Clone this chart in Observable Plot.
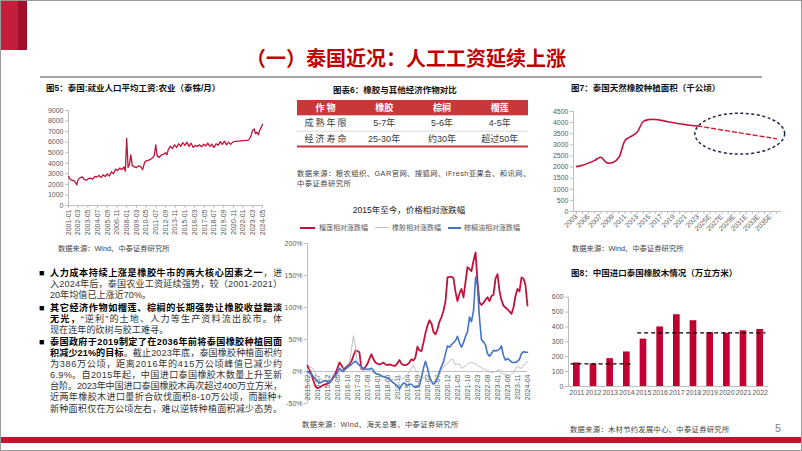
<!DOCTYPE html>
<html><head><meta charset="utf-8">
<script src="https://cdn.jsdelivr.net/npm/d3@7"></script>
<script src="https://cdn.jsdelivr.net/npm/@observablehq/plot@0.6"></script>
<style>
html,body{margin:0;padding:0;background:#fff;}
#page{position:relative;width:802px;height:451px;overflow:hidden;background:#fff;font-family:"Liberation Sans","Noto Sans CJK SC",sans-serif;}
.a{position:absolute;white-space:nowrap;}
.ft{font-weight:700;font-size:8.5px;line-height:8.5px;color:#111;}
.src{font-size:7.3px;line-height:7.3px;color:#444;}
.ln{position:absolute;left:50px;font-size:9.1px;line-height:11px;color:#333;white-space:nowrap;}
.ln b{color:#000;font-weight:700;}
.bul{position:absolute;left:39px;font-size:9px;line-height:11px;color:#000;}
.lg{position:absolute;top:224px;font-size:7px;line-height:7px;color:#595959;white-space:nowrap;}
.sw{position:absolute;height:0;}
</style></head>
<body>
<div id="page">
  <div class="a" style="left:0;top:0;width:18px;height:50px;background:#C41E3A;"></div>
  <div class="a" style="left:18px;top:0;width:9px;height:50px;background:#A0102A;"></div>
  <div class="a" style="left:0;top:48px;width:812px;text-align:center;font-size:20px;line-height:20px;font-weight:700;color:#C00000;font-family:'Noto Sans CJK SC',sans-serif;">（一）泰国近况：人工工资延续上涨</div>
  <div class="a" style="left:40px;top:76px;width:722px;height:2px;background:#A6A6A6;"></div>

  <div class="a ft" style="left:46px;top:84px;">图5：泰国:就业人口平均工资:农业（泰铢/月）</div>
  <div class="a ft" style="left:333px;top:86px;">图表6：橡胶与其他经济作物对比</div>
  <div class="a ft" style="left:571px;top:84px;">图7：泰国天然橡胶种植面积（千公顷）</div>
  <div class="a ft" style="left:571px;top:268.5px;">图8：中国进口泰国橡胶木情况（万立方米）</div>

  <div class="a src" style="left:58px;top:245.3px;">数据来源：Wind、中泰证券研究所</div>
  <div class="a src" style="left:572px;top:245.3px;">数据来源：Wind、中泰证券研究所</div>
  <div class="a src" style="left:297px;top:170.3px;letter-spacing:0.45px;">数据来源：粮农组织、GAR官网、搜狐网、iFresh亚果会、和讯网、</div>
  <div class="a src" style="left:297px;top:179.8px;letter-spacing:0.45px;">中泰证券研究所</div>
  <div class="a src" style="left:302px;top:420.5px;letter-spacing:0.4px;">数据来源：Wind、海关总署、中泰证券研究所</div>
  <div class="a src" style="left:570px;top:426.3px;letter-spacing:0.3px;">数据来源：木材节约发展中心、中泰证券研究所</div>

  <div class="a" style="left:309px;top:205.5px;width:200px;text-align:center;font-size:8.5px;line-height:9px;color:#222;">2015年至今，价格相对涨跌幅</div>
  <div class="sw" style="left:300px;top:226.5px;width:15px;border-top:2px solid #C0143C;"></div>
  <div class="lg" style="left:319px;">榴莲相对涨跌幅</div>
  <div class="sw" style="left:375px;top:227px;width:14px;border-top:1px solid #BFBFBF;"></div>
  <div class="lg" style="left:392px;">橡胶相对涨跌幅</div>
  <div class="sw" style="left:448px;top:226.5px;width:13px;border-top:2px solid #4472C4;"></div>
  <div class="lg" style="left:464px;">棕榈油相对涨跌幅</div>

  <div class="bul" style="top:267.8px;">■</div>
  <div class="ln j" style="top:267.8px;"><b>人力成本持续上涨是橡胶牛市的两大核心因素之一</b>，进</div>
  <div class="ln j" style="top:279.2px;">入2024年后，泰国农业工资延续强势，较（2001-2021）</div>
  <div class="ln" style="top:290.2px;">20年均值已上涨近70%。</div>
  <div class="bul" style="top:302.8px;">■</div>
  <div class="ln j" style="top:302.8px;"><b>其它经济作物如榴莲、棕榈的长期强势让橡胶收益黯淡</b></div>
  <div class="ln j" style="top:313.8px;"><b>无光，</b>“逆利”的土地、人力等生产资料流出胶市。体</div>
  <div class="ln" style="top:324.5px;">现在连年的砍树与胶工难寻。</div>
  <div class="bul" style="top:336.8px;">■</div>
  <div class="ln j" style="top:336.8px;"><b>泰国政府于2019制定了在2036年前将泰国橡胶种植园面</b></div>
  <div class="ln j" style="top:347.8px;"><b>积减少21%的目标</b>。截止2023年底，泰国橡胶种植面积约</div>
  <div class="ln j" style="top:358.5px;">为386万公顷，距离2016年的415万公顷峰值已减少约</div>
  <div class="ln j" style="top:370.2px;">6.9%。自2015年起，中国进口泰国橡胶木数量上升至新</div>
  <div class="ln j" style="top:381.2px;">台阶。2023年中国进口泰国橡胶木再次超过400万立方米，</div>
  <div class="ln j" style="top:392.2px;">近两年橡胶木进口量折合砍伐面积8-10万公顷，而翻种+</div>
  <div class="ln j" style="top:403.5px;">新种面积仅在万公顷左右，难以逆转种植面积减少态势。</div>

  <div class="a" style="left:0;top:436.5px;width:802px;height:6px;background:#C41230;"></div>
  <div class="a" style="left:775px;top:423px;font-size:11px;line-height:11px;color:#7f7f7f;">5</div>
  <div class="a" style="left:0;top:0;width:802px;height:451px;box-sizing:border-box;border:1px solid #9a9a9a;"></div>
</div>
<script>
// ---------- data ----------
const wageDates = ["2001-01","2001-04","2001-07","2001-10","2002-01","2002-03","2002-06","2002-09","2002-12","2003-03","2003-06","2003-09","2003-12","2004-03","2004-06","2004-09","2004-12","2005-03","2005-06","2005-09","2005-12","2006-03","2006-06","2006-09","2006-12","2007-03","2007-06","2007-09","2007-11","2008-01","2008-03","2008-05","2008-07","2008-09","2008-12","2009-03","2009-06","2009-09","2009-12","2010-03","2010-06","2010-09","2010-12","2011-03","2011-05","2011-07","2011-09","2011-12","2012-03","2012-06","2012-09","2012-11","2013-01","2013-04","2013-07","2013-10","2014-01","2014-04","2014-07","2014-10","2015-01","2015-04","2015-07","2015-10","2016-01","2016-04","2016-07","2016-10","2017-01","2017-04","2017-07","2017-10","2018-01","2018-04","2018-07","2018-10","2019-01","2019-04","2019-07","2019-10","2020-01","2020-04","2020-07","2020-11","2022-09","2022-12","2023-03","2023-05","2023-07","2023-09","2023-11","2024-01","2024-03","2024-05"];
const wageValues = [2750,2450,2380,2300,1950,2450,2650,2700,2450,2400,2550,2600,2500,2750,2700,2850,2650,2900,2750,3000,2800,3200,3000,3450,3300,3550,3400,3650,3250,6350,3600,3900,4800,3800,3650,3600,3750,3700,3400,4100,4250,4300,4400,4550,4800,5750,4700,4550,4800,4850,5000,4800,5300,5600,5400,5750,5500,5850,5600,5950,5700,6000,5600,5900,5500,5700,5600,5750,5550,5800,5650,5900,5600,5800,5500,5850,5700,6050,5800,6100,5750,6000,5800,6050,6200,6550,7150,7250,6800,6950,6700,7100,7400,7700];
const wageTicks = ["2001-01","2002-03","2003-05","2004-07","2005-09","2006-11","2008-01","2009-03","2010-05","2011-07","2012-09","2013-11","2015-01","2016-03","2017-05","2018-07","2019-09","2020-11","2022-01","2023-03","2024-05"];
const wageYTicks = [0,1000,2000,3000,4000,5000,6000,7000,8000,9000];

const tableHeader = ["作物","橡胶","棕榈","榴莲"];
const tableRow1 = ["成熟年限","5-7年","5-6年","4-5年"];
const tableRow2 = ["经济寿命","25-30年","约30年","超过50年"];

const priceStart = "2015-02", priceEnd = "2024-04";
const durianValues = [9,3,-4,-14,-23,-26,-25,-23,-21,-20,
 -19,-17,-14,-8,-3,5,14,10,4,6,
 9,12,16,25,33,32,30,4,3,7,
 12,20,27,19,14,12,11,12,14,11,
 10,11,10,9,9,13,18,12,10,10,
 11,14,19,17,22,39,33,32,45,60,
 72,80,75,62,58,66,78,85,95,110,
 147,148,148,146,125,110,122,129,116,140,
 163,160,157,173,186,142,108,104,107,112,
 116,110,118,120,145,152,125,112,103,100,
 97,94,90,100,118,129,125,147,145,135,
 103];
const rubberValues = [0,4,7,3,-3,-8,-10,-12,-14,-16,
 -13,-10,-7,-5,-10,-12,-2,3,6,8,
 10,14,35,56,38,15,8,5,2,3,
 4,2,0,-2,-3,-4,-5,-6,-8,-9,
 -10,-11,-12,-13,-14,-10,-8,-10,-12,-8,
 -5,0,5,10,3,-3,-8,-9,-10,-11,
 -12,-15,-18,-16,-15,-10,-5,2,8,10,
 12,16,20,18,10,12,12,5,7,9,
 12,14,14,13,12,10,8,6,4,3,
 2,0,-2,-1,0,2,3,-3,-4,-4,
 -5,-6,-4,-2,4,8,6,5,10,12,
 16];
const palmValues = [0,-2,-4,-8,-12,-15,-18,-17,-15,-14,
 -16,-18,-13,-10,-6,-2,5,2,0,4,
 6,9,11,14,16,13,10,7,5,4,
 3,4,5,1,-3,-4,-5,-7,-8,-9,
 -10,-12,-15,-18,-20,-23,-27,-22,-18,-19,
 -22,-20,-20,-23,-25,-24,-22,-10,5,16,
 5,-8,-15,-20,-17,-10,0,8,15,28,
 40,38,42,45,48,55,45,38,45,55,
 62,85,78,95,147,135,84,50,46,42,
 28,24,28,33,32,33,35,40,25,18,
 20,18,15,14,14,16,19,28,31,30,
 30];
const priceTicks = ["2015-02","2015-07","2015-12","2016-05","2016-10","2017-03","2017-08","2018-01","2018-06","2018-11","2019-04","2019-09","2020-02","2020-07","2020-12","2021-05","2021-10","2022-03","2022-08","2023-01","2023-06","2023-11","2024-04"];
const priceYTicks = [-50,0,50,100,150,200];

const areaYears = [2003,2004,2005,2006,2007,2008,2009,2010,2011,2012,2013,2014,2015,2016,2017,2018,2019,2020,2021,2022,2023];
const areaValues = [2020,2080,2180,2300,2440,2190,2200,2440,3200,3380,3570,4050,4140,4140,4100,4040,3990,3950,3910,3870,3850];
const areaForecastYears = [2023,2024,2025,2026,2027,2028,2029,2030,2031,2032,2033,2034,2035,2036];
const areaForecastValues = [3850,3800,3760,3710,3670,3630,3580,3540,3490,3450,3400,3360,3320,3270];
const areaTickYears = [2003,2005,2007,2009,2011,2013,2015,2017,2019,2021,2023,2025,2027,2029,2031,2033,2035];
const areaTickLabels = ["2003","2005","2007","2009","2011","2013","2015","2017","2019","2021","2023","2025E","2027E","2029E","2031E","2033E","2035E"];
const areaYTicks = [0,500,1000,1500,2000,2500,3000,3500,4000,4500];
const forecastOval = {fromYear: 2022.6, toYear: 2037.4, low: 2560, high: 4400};

const importYears = [2011,2012,2013,2014,2015,2016,2017,2018,2019,2020,2021,2022];
const importValues = [158,152,187,232,318,400,482,442,362,358,374,383];
const importLevelFrom = [2011,2015];
const importLevelTo = [2014,2022];
const importLevelValue = [152,360];
const importYTicks = [0,100,200,300,400,500,600];

// ---------- justify text lines to a fixed width ----------
document.querySelectorAll(".ln.j").forEach(el => {
  const target = 232;
  const n = [...el.textContent].length;
  const w = el.getBoundingClientRect().width;
  el.style.letterSpacing = ((target - w) / (n - 1)) + "px";
});

// ---------- helpers ----------
const FONT = '"Liberation Sans","Noto Sans CJK SC",sans-serif';
const TXT = "#595959", AXIS = "#BFBFBF", CRIMSON = "#C0143C", BLUE = "#4472C4";
const page = document.getElementById("page");
function place(el, left, top){ const d=document.createElement("div"); d.style.cssText=`position:absolute;left:${left}px;top:${top}px;`; d.appendChild(el); page.insertBefore(d, page.lastElementChild); }
const style = {fontFamily: FONT, fontSize: "7px", color: TXT, background: "transparent", overflow: "visible"};
const parseYM = d3.utcParse("%Y-%m");
const fmtYM = d3.utcFormat("%Y-%m");
const plain = d => String(d);

// ---------- chart 1: wages ----------
const wageData = wageDates.map((d,i)=>({date: parseYM(d), value: wageValues[i]}));
const c1 = Plot.plot({
  width: 240, height: 140, marginLeft: 38, marginRight: 8, marginTop: 10, marginBottom: 35, style,
  x: {type: "utc", domain: [parseYM(wageTicks[0]), parseYM(wageTicks[wageTicks.length-1])]},
  y: {domain: [0, 9000]},
  marks: [
    Plot.axisY({ticks: wageYTicks, tickFormat: plain, tickSize: 3, tickPadding: 2, stroke: AXIS, fill: TXT, label: null}),
    Plot.axisX({ticks: wageTicks.map(parseYM), tickFormat: fmtYM, tickRotate: -90, tickSize: 3, tickPadding: 1, stroke: AXIS, fill: TXT, label: null}),
    Plot.ruleX([parseYM(wageTicks[0])], {stroke: AXIS}),
    Plot.ruleY([0], {stroke: AXIS}),
    Plot.line(wageData, {x: "date", y: "value", stroke: CRIMSON, strokeWidth: 1.3})
  ]
});
place(c1, 30, 100);

// ---------- table ----------
const tableRows = [tableHeader, tableRow1, tableRow2];
const cells = tableRows.flatMap((row, r) => row.map((t, c) => ({r, c, t})));
const c2 = Plot.plot({
  width: 241, height: 55, marginLeft: 5, marginRight: 5, marginTop: 5, marginBottom: 4, style,
  x: {domain: [0, tableHeader.length], axis: null},
  y: {domain: [0, tableRows.length], reverse: true, axis: null},
  marks: [
    Plot.rect([tableHeader], {x1: 0, x2: tableHeader.length, y1: 0, y2: 1, fill: "#C8383A"}),
    Plot.ruleY([2], {stroke: "#D0D0D0", strokeWidth: 0.8}),
    Plot.ruleY([tableRows.length], {stroke: "#C8383A", strokeWidth: 2}),
    Plot.text(cells, {x: d => d.c + 0.5, y: d => d.r + 0.5, text: "t", fontSize: 9,
      fill: d => d.r === 0 ? "#FFFFFF" : "#3a3a3a"})
  ]
});
c2.querySelectorAll("text").forEach(t => {
  if ([tableHeader[0], tableRow1[0], tableRow2[0]].includes(t.textContent)) t.setAttribute("letter-spacing", "2");
  if (tableHeader.includes(t.textContent)) t.setAttribute("font-weight", "bold");
});
place(c2, 292, 95);

// ---------- chart 3: price relative ----------
const months = d3.utcMonth.range(parseYM(priceStart), d3.utcMonth.offset(parseYM(priceEnd), 1));
const series = [["榴莲相对涨跌幅", durianValues, CRIMSON, 1.8], ["橡胶相对涨跌幅", rubberValues, AXIS, 1], ["棕榈油相对涨跌幅", palmValues, BLUE, 1.6]];
const c3 = Plot.plot({
  width: 255, height: 175, marginLeft: 27, marginRight: 8, marginTop: 8, marginBottom: 7, style,
  x: {type: "utc", domain: [parseYM(priceStart), parseYM(priceEnd)], axis: null},
  y: {domain: [-50, 200]},
  marks: [
    Plot.axisY({ticks: priceYTicks, tickFormat: d => d + "%", tickSize: 3, tickPadding: 2, stroke: AXIS, fill: TXT, label: null}),
    Plot.ruleX([parseYM(priceStart)], {stroke: AXIS}),
    Plot.ruleY([0], {stroke: AXIS}),
    Plot.text(priceTicks, {x: d => parseYM(d), y: 0, text: d => d, rotate: -90, textAnchor: "end", dy: 3, fill: TXT, fontSize: 7}),
    ...series.map(([name, vals, color, w]) => Plot.line(months.map((m,i)=>({date: m, value: vals[i]})), {x: "date", y: "value", stroke: color, strokeWidth: w}))
  ]
});
place(c3, 280, 235);

// ---------- chart 4: planting area ----------
const areaData = areaYears.map((y,i)=>({year: y, value: areaValues[i]}));
const foreData = areaForecastYears.map((y,i)=>({year: y, value: areaForecastValues[i]}));
const ovalMark = (index, scales) => {
  const e = document.createElementNS("http://www.w3.org/2000/svg", "ellipse");
  const x1 = scales.x(forecastOval.fromYear), x2 = scales.x(forecastOval.toYear);
  const y1 = scales.y(forecastOval.high), y2 = scales.y(forecastOval.low);
  e.setAttribute("cx", (x1+x2)/2); e.setAttribute("cy", (y1+y2)/2);
  e.setAttribute("rx", (x2-x1)/2); e.setAttribute("ry", (y2-y1)/2);
  e.setAttribute("fill", "none"); e.setAttribute("stroke", "#1F2A44");
  e.setAttribute("stroke-width", "1.5"); e.setAttribute("stroke-dasharray", "3,2.5");
  return e;
};
const c4 = Plot.plot({
  width: 258, height: 145, marginLeft: 33, marginRight: 17, marginTop: 11, marginBottom: 34, style,
  x: {domain: [2002.5, 2036.8]},
  y: {domain: [0, 4500]},
  marks: [
    Plot.axisY({ticks: areaYTicks, tickFormat: plain, tickSize: 3, tickPadding: 2, stroke: AXIS, fill: TXT, label: null}),
    Plot.axisX({ticks: areaYears.concat(areaForecastYears.slice(1)), tickFormat: () => "", tickSize: 3, stroke: AXIS, label: null}),
    Plot.axisX({ticks: areaTickYears, tickFormat: d => areaTickLabels[areaTickYears.indexOf(d)], tickRotate: -45, tickSize: 0, tickPadding: 4, fill: TXT, label: null}),
    Plot.ruleX([2002.5], {stroke: AXIS}),
    Plot.ruleY([0], {stroke: AXIS}),
    Plot.line(areaData, {x: "year", y: "value", stroke: CRIMSON, strokeWidth: 1.6, curve: "catmull-rom"}),
    Plot.line(foreData, {x: "year", y: "value", stroke: "#D01E2E", strokeWidth: 1.4, strokeDasharray: "4,3"}),
    ovalMark
  ]
});
place(c4, 540, 100);

// ---------- chart 5: imports ----------
const importData = importYears.map((y,i)=>({year: y, value: importValues[i]}));
const levels = importLevelFrom.map((f,i)=>({from: f, to: importLevelTo[i], value: importLevelValue[i]}));
const c5 = Plot.plot({
  width: 235, height: 120, marginLeft: 28, marginRight: 7, marginTop: 11.7, marginBottom: 19, style,
  x: {domain: [2010.5, 2022.5]},
  y: {domain: [0, 600]},
  marks: [
    Plot.axisY({ticks: importYTicks, tickFormat: plain, tickSize: 3, tickPadding: 2, stroke: AXIS, fill: TXT, label: null}),
    Plot.axisX({ticks: importYears, tickFormat: plain, tickSize: 0, tickPadding: 4, fill: TXT, label: null}),
    Plot.ruleX([2010.5], {stroke: AXIS}),
    Plot.ruleY([0], {stroke: AXIS}),
    Plot.rectY(importData, {x1: d => d.year - 0.2, x2: d => d.year + 0.2, y: "value", fill: "#C00030"}),
    Plot.ruleY(levels, {y: "value", x1: d => d.from - 0.35, x2: d => d.to + 0.35, stroke: "#000", strokeWidth: 1.3, strokeDasharray: "4,3"})
  ]
});
place(c5, 540, 285);
</script>
</body></html>
